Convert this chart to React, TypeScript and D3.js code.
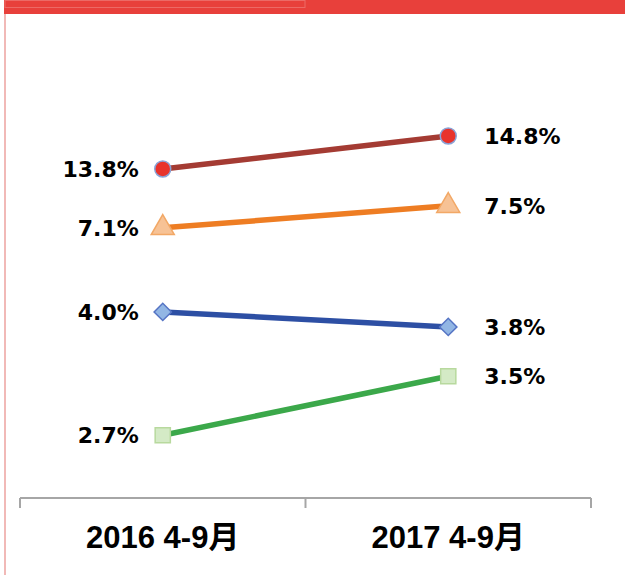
import React, { useEffect, useRef } from "react";
import * as d3 from "d3";

// categories + series values (percent)
const periods = ["2016 4-9月", "2017 4-9月"];
const seriesNames = ["red", "orange", "blue", "green"];
const redValues = [13.8, 14.8];
const orangeValues = [7.1, 7.5];
const blueValues = [4.0, 3.8];
const greenValues = [2.7, 3.5];
// each series sits on its own hidden value axis (min, max)
const axisMin = [3.83, 2.19, 1.52, 1.85];
const axisMax = [15.95, 9.46, 6.85, 7.27];

const lineColors = ["#a43b33", "#ee7d23", "#2d4fa4", "#3ba84a"];
const markerFill = ["#e8332b", "#f7c295", "#92b6e4", "#d4eac6"];
const markerStroke = ["#8aa2d6", "#f2a866", "#5574c4", "#b8d99e"];
const markerShapes = [d3.symbolCircle, d3.symbolTriangle, d3.symbolSquare, d3.symbolSquare];
const markerSizes = [200, 230, 150, 230];
const markerRotate = [0, 0, 45, 0];

const W = 625;
const H = 575;

const App = () => {
    const svgRef = useRef<SVGSVGElement>(null);

    useEffect(() => {
        const svg = d3.select(svgRef.current);
        svg.selectAll("*").remove();

        const allValues = [redValues, orangeValues, blueValues, greenValues];
        const axisY = 498;
        const plotTop = 98;

        // frame: red header band + pink left rule
        svg.append("rect").attr("x", 4).attr("y", 0).attr("width", W - 4).attr("height", 14).attr("fill", "#e8403b");
        svg.append("rect").attr("x", 5).attr("y", 0.5).attr("width", 300).attr("height", 7)
            .attr("fill", "none").attr("stroke", "#ec6a66").attr("stroke-width", 1);
        svg.append("rect").attr("x", 4).attr("y", 14).attr("width", 2).attr("height", H - 14).attr("fill", "#f1b9b7");

        const x = d3.scaleBand().domain(periods).range([20, 591]).paddingInner(0).paddingOuter(0);

        // category axis
        const gx = svg.append("g").attr("transform", `translate(0,${axisY})`);
        gx.append("line").attr("x1", 20).attr("x2", 591).attr("stroke", "#a6a6a6").attr("stroke-width", 2);
        const tickXs = [...periods.map((p) => x(p) as number), 591];
        gx.selectAll(".tick").data(tickXs).join("line")
            .attr("x1", (d) => d).attr("x2", (d) => d)
            .attr("y1", 0).attr("y2", 10)
            .attr("stroke", "#a6a6a6").attr("stroke-width", 2);
        gx.selectAll(".lbl").data(periods).join("text")
            .attr("x", (d) => (x(d) as number) + x.bandwidth() / 2)
            .attr("y", 50)
            .attr("text-anchor", "middle")
            .attr("font-family", "'Liberation Sans', 'Noto Sans CJK JP', sans-serif")
            .attr("font-weight", "bold")
            .attr("font-size", 31)
            .attr("fill", "#000")
            .text((d) => d);

        seriesNames.forEach((name, si) => {
            const vals = allValues[si];
            const y = d3.scaleLinear().domain([axisMin[si], axisMax[si]]).range([axisY, plotTop]);
            const pts = vals.map((v, i) => ({ x: (x(periods[i]) as number) + x.bandwidth() / 2, y: y(v), v, i }));
            const g = svg.append("g").attr("class", `series-${name}`);

            g.append("path")
                .datum(pts)
                .attr("fill", "none")
                .attr("stroke", lineColors[si])
                .attr("stroke-width", 5.5)
                .attr("d", d3.line<any>().x((d) => d.x).y((d) => d.y));

            g.selectAll(".m").data(pts).join("path")
                .attr("transform", (d) => `translate(${d.x},${d.y}) rotate(${markerRotate[si]})`)
                .attr("d", d3.symbol().type(markerShapes[si]).size(markerSizes[si])())
                .attr("fill", markerFill[si])
                .attr("stroke", markerStroke[si])
                .attr("stroke-width", 1.5);

            g.selectAll(".v").data(pts).join("text")
                .attr("x", (d) => (d.i === 0 ? d.x - 24 : d.x + 36))
                .attr("y", (d) => d.y)
                .attr("dy", "0.36em")
                .attr("text-anchor", (d) => (d.i === 0 ? "end" : "start"))
                .attr("font-family", "'DejaVu Sans', sans-serif")
                .attr("font-weight", "bold")
                .attr("font-size", 22)
                .attr("fill", "#000")
                .text((d) => `${d.v.toFixed(1)}%`);
        });
    }, []);

    return (
        <div style={{ position: "absolute", left: 0, top: 0 }}>
            <svg ref={svgRef} width={W} height={H} style={{ display: "block", background: "#fff" }}></svg>
        </div>
    );
};

export default App;
